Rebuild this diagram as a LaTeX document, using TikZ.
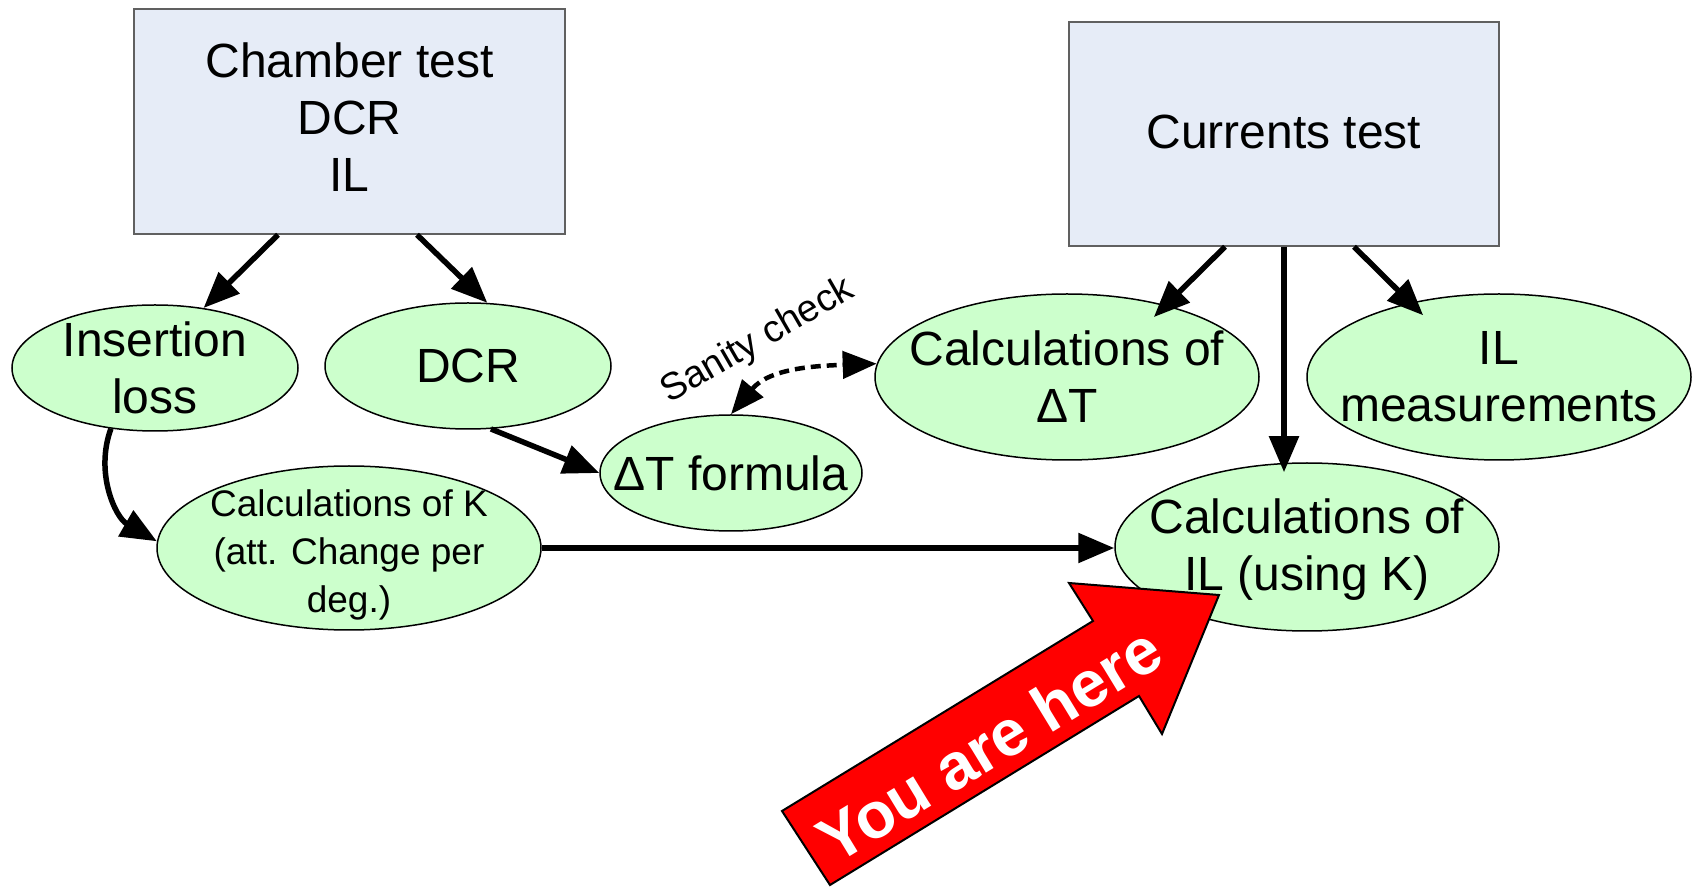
\documentclass[tikz,border=0pt]{standalone}
\usepackage{fontspec}
\setmainfont{Liberation Sans}
\usetikzlibrary{arrows.meta,shapes.geometric,calc}
\definecolor{boxfill}{HTML}{E6ECF7}
\definecolor{ellfill}{HTML}{CCFFCC}
\definecolor{boxline}{HTML}{606060}
\begin{document}
\begin{tikzpicture}[x=1pt,y=1pt,
  testbox/.style={draw=boxline,line width=1.5pt,fill=boxfill,rectangle,inner sep=0pt},
  oval/.style={draw=black,line width=1.5pt,fill=ellfill,ellipse,inner sep=0pt},
  big/.style={font=\fontsize{48}{57}\selectfont,align=center,inner sep=0pt},
  small/.style={font=\fontsize{37}{48}\selectfont,align=center,inner sep=0pt},
  conn/.style={line width=5.5pt,-{Triangle[length=36pt,width=29pt]}},
  dashconn/.style={line width=4.5pt,dash pattern=on 10pt off 6pt,{Triangle[length=34pt,width=27pt]}-{Triangle[length=34pt,width=27pt]}},
  youarrow/.style={fill=red,draw=black,line width=2pt,line join=miter},
]
\useasboundingbox (0,0) rectangle (1698,887);

% boxes
\node[testbox,minimum width=431pt,minimum height=225pt] (chamber) at (349.5,765.5) {};
\node[big] at ([yshift=4pt]chamber.center) {Chamber test\\DCR\\IL};
\node[testbox,minimum width=430pt,minimum height=224pt] (currents) at (1284,753) {};
\node[big] at ([yshift=2pt]currents.center) {Currents test};

% ellipses
\node[oval,minimum width=286pt,minimum height=126pt] (insertion) at (155,519) {};
\node[big] at (insertion) {Insertion\\loss};
\node[oval,minimum width=286pt,minimum height=126pt] (dcr) at (468,521) {};
\node[big] at (dcr) {DCR};
\node[oval,minimum width=262pt,minimum height=116pt] (dtf) at (731,414) {};
\node[big] at (dtf) {ΔT formula};
\node[oval,minimum width=384pt,minimum height=166pt] (calcdt) at (1067,510) {};
\node[big] at (calcdt) {Calculations of\\ΔT};
\node[oval,minimum width=384pt,minimum height=166pt] (ilmeas) at (1499,510) {};
\node[big] at (ilmeas) {IL\\measurements};
\node[oval,minimum width=384pt,minimum height=164pt] (calck) at (349,339) {};
\node[small] at ([yshift=-7pt]calck.center) {Calculations of K\\(att. Change per\\deg.)};
\node[oval,minimum width=384pt,minimum height=168pt] (calcil) at (1307,340) {};
\node[big] at ([yshift=-3pt]calcil.center) {Calculations of\\IL (using K)};

% connectors
\draw[conn] ([xshift=-71.5pt]chamber.south) -- (insertion.51);
\draw[conn] ([xshift=67.5pt]chamber.south) -- (dcr.73);
\draw[conn] (dcr.-70) -- (dtf.west);
\draw[conn,shorten >=-17pt] ([xshift=-59pt]currents.south) -- (calcdt.36);
\draw[conn,shorten >=-10pt] (currents.south) -- (currents.south |- calcil.north);
\draw[conn,shorten >=-18pt] ([xshift=70pt]currents.south) -- (ilmeas.140);
\draw[conn] (calck.east) -- (calck.east -| calcil.west);
\draw[conn] (insertion.-126) to[out=-110,in=150] (calck.178);
\draw[dashconn] (dtf.north) to[out=50,in=182] (calcdt.176);
\node[font=\fontsize{38}{44}\selectfont,rotate=30] (sanity) at (758,546) {Sanity check};

% you are here arrow
\draw[youarrow] (782,76) -- (1093,266) -- (1069,304) -- (1219,292) -- (1162,153) -- (1139,191) -- (830,2) -- cycle;
\node[rotate=31.4,text=white,font=\bfseries\fontsize{65}{68}\selectfont] (here) at (989,143) {You are here};
\end{tikzpicture}
\end{document}
